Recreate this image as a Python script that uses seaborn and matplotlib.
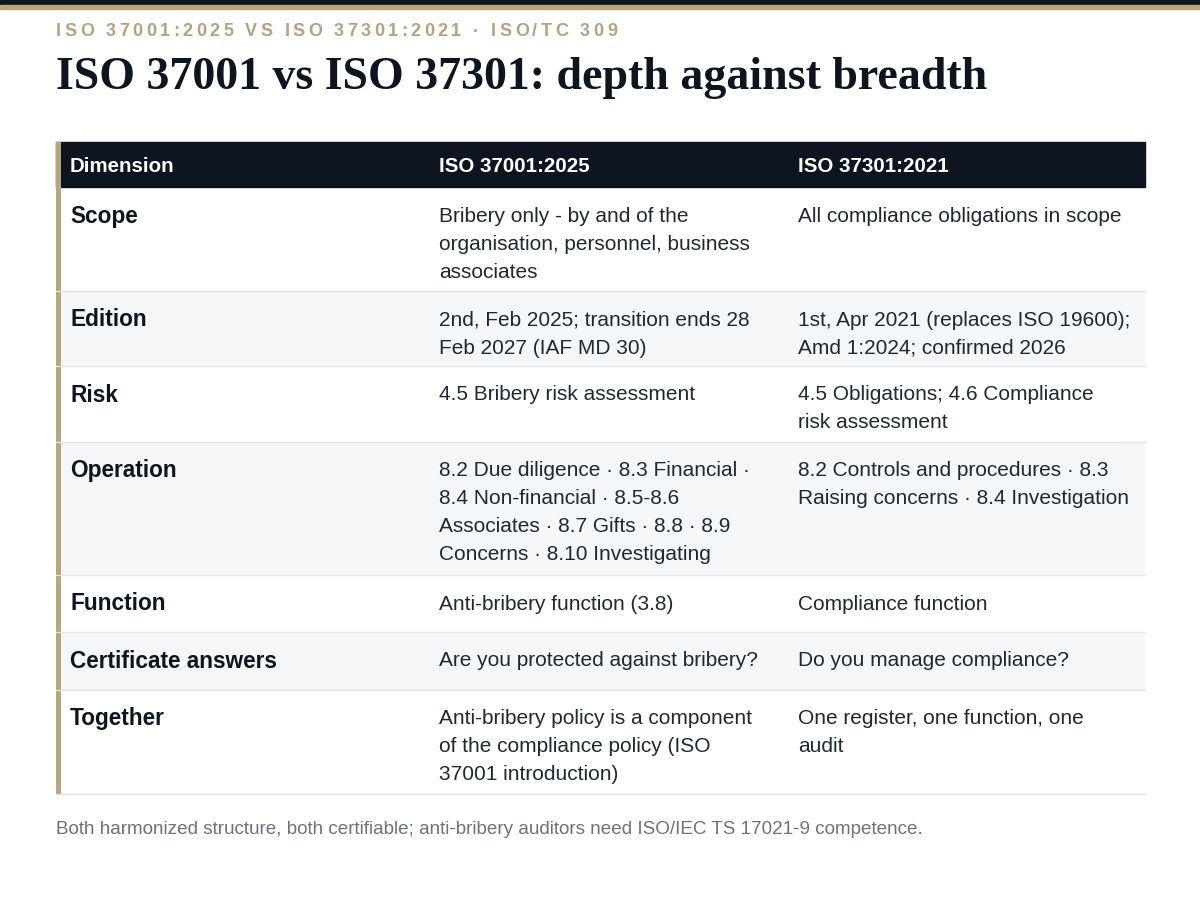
import matplotlib
matplotlib.use("Agg")
import matplotlib.pyplot as plt
import seaborn as sns
from matplotlib.patches import Rectangle

sns.set_theme(style="white")
plt.rcParams['font.family'] = ['Liberation Sans', 'DejaVu Sans']

eyebrow = "ISO 37001:2025 VS ISO 37301:2021 · ISO/TC 309"
title = "ISO 37001 vs ISO 37301: depth against breadth"
headers = ["Dimension", "ISO 37001:2025", "ISO 37301:2021"]
dimensions = ["Scope", "Edition", "Risk", "Operation", "Function", "Certificate answers", "Together"]
iso37001 = [
    "Bribery only - by and of the\norganisation, personnel, business\nassociates",
    "2nd, Feb 2025; transition ends 28\nFeb 2027 (IAF MD 30)",
    "4.5 Bribery risk assessment",
    "8.2 Due diligence · 8.3 Financial ·\n8.4 Non-financial · 8.5-8.6\nAssociates · 8.7 Gifts · 8.8 · 8.9\nConcerns · 8.10 Investigating",
    "Anti-bribery function (3.8)",
    "Are you protected against bribery?",
    "Anti-bribery policy is a component\nof the compliance policy (ISO\n37001 introduction)",
]
iso37301 = [
    "All compliance obligations in scope",
    "1st, Apr 2021 (replaces ISO 19600);\nAmd 1:2024; confirmed 2026",
    "4.5 Obligations; 4.6 Compliance\nrisk assessment",
    "8.2 Controls and procedures · 8.3\nRaising concerns · 8.4 Investigation",
    "Compliance function",
    "Do you manage compliance?",
    "One register, one function, one\naudit",
]
row_edges = [187, 291, 366, 442, 575, 632, 690, 794]
footer = "Both harmonized structure, both certifiable; anti-bribery auditors need ISO/IEC TS 17021-9 competence."

fig = plt.figure(figsize=(12, 8.98), dpi=100)
ax = fig.add_axes([0, 0, 1, 1])
ax.set_xlim(0, 1200); ax.set_ylim(898, 0); ax.axis("off")
renderer = fig.canvas.get_renderer()

ax.add_patch(Rectangle((0, 0), 1200, 5, color="#10161d"))
ax.add_patch(Rectangle((0, 5), 1200, 4, color="#b9a57e"))

# letter-spaced eyebrow
ekw = dict(fontsize=13, fontweight="bold", color="#b3a380", va="center", ha="left")
def prefix_w(s):
    if not s:
        return 0.0
    t = ax.text(0, 0, s.replace(" ", "\u00a0") + "|", **ekw)
    t2 = ax.text(0, 0, "|", **ekw)
    w = t.get_window_extent(renderer).width - t2.get_window_extent(renderer).width
    t.remove(); t2.remove()
    return w
natural = prefix_w(eyebrow)
target = 617 - 56
track = (target - natural) / (len(eyebrow) - 1)
for i, ch in enumerate(eyebrow):
    if ch != " ":
        ax.text(56 + prefix_w(eyebrow[:i]) + i * track, 32, ch, **ekw)

ax.text(56, 78, title, fontsize=33, fontweight="bold", color="#0d1620",
        family=["Liberation Serif", "DejaVu Serif"], va="center", ha="left")

ax.add_patch(Rectangle((56, 142), 1089, 45, color="#0d1620"))
cols = [70, 439, 798]
for x, h in zip(cols, headers):
    ax.text(x, 167, h, fontsize=14.8, fontweight="bold", color="white", va="center")

for i, dim in enumerate(dimensions):
    top, bot = row_edges[i], row_edges[i + 1]
    if i % 2 == 1:
        ax.add_patch(Rectangle((56, top), 1089, bot - top, color="#f4f6f8", lw=0))
    ax.plot([56, 1145], [bot, bot], color="#e2e5e8", lw=1)
    ax.text(cols[0], top + 29, dim, fontsize=16.3, fontweight="bold", color="#0d1620", va="center")
    for x, txt in ((cols[1], iso37001[i]), (cols[2], iso37301[i])):
        for j, line in enumerate(txt.split("\n")):
            ax.text(x, top + 29 + 28 * j, line, fontsize=15, color="#1f2933", va="center")

ax.add_patch(Rectangle((56, 142), 5, 794 - 142, color="#b9a57e", lw=0))

ax.text(56, 829, footer, fontsize=13.6, color="#6b7280", va="center")

fig.savefig("out.png", dpi=100, facecolor="white")
